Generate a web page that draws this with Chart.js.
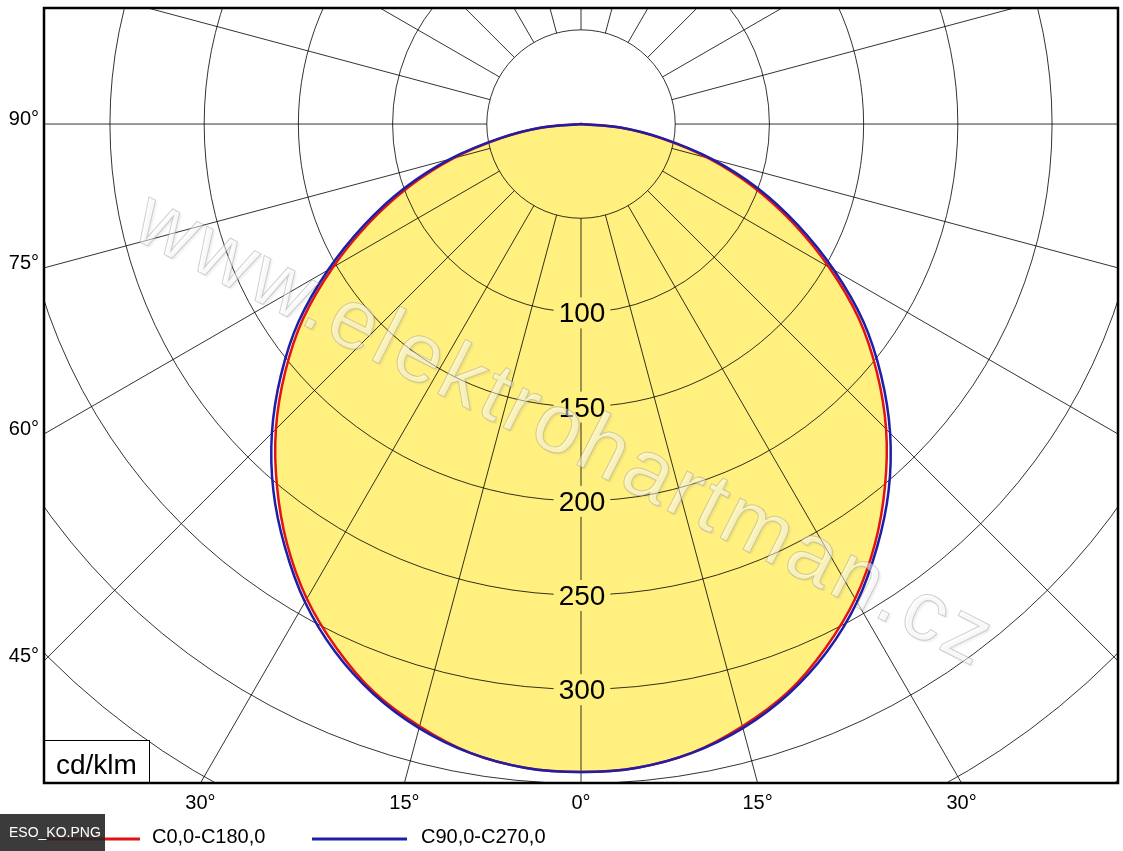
<!DOCTYPE html>
<html>
<head>
<meta charset="utf-8">
<title>Luminous intensity distribution</title>
<script src="https://cdn.jsdelivr.net/npm/chart.js@4.4.0/dist/chart.umd.min.js"></script>
<style>
  html, body { margin: 0; padding: 0; background: #fff; }
  #wrap { position: relative; width: 1123px; height: 851px; }
  #tag {
    position: absolute; left: 0; top: 814px; width: 105px; height: 37px;
    background: rgba(38, 38, 38, 0.9); color: #fff;
    font: 14px 'Liberation Sans', Arial, sans-serif; line-height: 37px;
    padding-left: 9px; box-sizing: border-box; white-space: nowrap;
  }
</style>
</head>
<body>
<div id="wrap">
  <canvas id="ldc"></canvas>
  <div id="tag">ESO_KO.PNG</div>
</div>
<script>
// gamma angles (deg from nadir), intensities in cd/klm
const angles = [0, 5, 10, 15, 20, 25, 30, 35, 40, 45, 50, 55, 60, 65, 70, 75, 80, 85, 90]
const c0c180 = [344, 343, 339, 331, 321, 307, 291, 272, 251, 229, 205, 180, 152, 124, 97, 70, 43, 20, 0]
const c90c270 = [344, 343, 339, 332, 322, 309, 293, 274, 254, 232, 208, 183, 155, 127, 100, 72, 44, 21, 0]
const seriesNames = ['C0,0-C180,0', 'C90,0-C270,0']

const rings = [50, 100, 150, 200, 250, 300, 350, 400, 450, 500]
const ringLabels = [100, 150, 200, 250, 300]
const spokes = [0, 15, 30, 45, 60, 75, 90, 105, 120, 135, 150, 165, 180, 195, 210, 225, 240, 255, 270, 285, 300, 315, 330, 345]
const bottomTicks = [-30, -15, 0, 15, 30]
const sideTicks = [45, 60, 75, 90]
const unitLabel = 'cd/klm'
const watermark = 'www.elektrohartman.cz'

const RED = '#e01414'
const BLUE = '#1e1ea6'
const YELLOW = '#fff07f'
const GRID = 'rgba(0, 0, 0, 0.8)'
const FONT = "'Liberation Sans', Arial, sans-serif"

function toXY(gamma, value) {
  const rad = gamma * Math.PI / 180
  return { x: value * Math.sin(rad), y: -value * Math.cos(rad) }
}

// one C-plane pair: left half mirrored, then right half
function curve(values) {
  const pts = []
  for (let i = angles.length - 1; i > 0; i--) pts.push(toXY(-angles[i], values[i]))
  for (let i = 0; i < angles.length; i++) pts.push(toXY(angles[i], values[i]))
  return pts
}

const polarGrid = {
  id: 'polarGrid',
  beforeDatasetsDraw(chart) {
    const { ctx, chartArea: a, scales: { x, y } } = chart
    const cx = x.getPixelForValue(0)
    const cy = y.getPixelForValue(0)
    const k = x.getPixelForValue(1) - cx
    ctx.save()
    ctx.beginPath()
    ctx.rect(a.left, a.top, a.width, a.height)
    ctx.clip()
    ctx.strokeStyle = GRID
    ctx.lineWidth = 1
    rings.forEach((r) => {
      ctx.beginPath()
      ctx.arc(cx, cy, r * k, 0, Math.PI * 2)
      ctx.stroke()
    })
    spokes.forEach((g) => {
      const p0 = toXY(g, rings[0])
      const p1 = toXY(g, 900)
      ctx.beginPath()
      ctx.moveTo(x.getPixelForValue(p0.x), y.getPixelForValue(p0.y))
      ctx.lineTo(x.getPixelForValue(p1.x), y.getPixelForValue(p1.y))
      ctx.stroke()
    })
    ctx.font = '28px ' + FONT
    ctx.textAlign = 'center'
    ctx.textBaseline = 'alphabetic'
    ringLabels.forEach((v) => {
      const py = y.getPixelForValue(-v)
      const w = ctx.measureText(String(v)).width + 10
      ctx.fillStyle = YELLOW
      ctx.fillRect(cx - w / 2 + 1, py - 15, w, 31)
      ctx.fillStyle = '#000'
      ctx.fillText(String(v), cx + 1, py + 10)
    })
    ctx.restore()
  }
}

const decorations = {
  id: 'decorations',
  afterDraw(chart) {
    const { ctx, chartArea: a, scales: { x, y } } = chart
    ctx.save()

    // unit box
    ctx.fillStyle = '#fff'
    ctx.fillRect(a.left, a.bottom - 43, 105, 43)
    ctx.strokeStyle = '#000'
    ctx.lineWidth = 1
    ctx.strokeRect(a.left + 0.5, a.bottom - 42.5, 105, 43)
    ctx.fillStyle = '#000'
    ctx.font = '28px ' + FONT
    ctx.textAlign = 'left'
    ctx.fillText(unitLabel, a.left + 12, a.bottom - 9)

    // frame
    ctx.lineWidth = 2.5
    ctx.strokeRect(a.left, a.top, a.width, a.height)

    // angle labels where spokes meet the frame
    ctx.font = '20px ' + FONT
    ctx.textAlign = 'center'
    const yMin = y.min
    bottomTicks.forEach((g) => {
      const rad = g * Math.PI / 180
      const xv = -yMin * Math.tan(rad)
      ctx.fillText(Math.abs(g) + '°', x.getPixelForValue(xv), a.bottom + 26)
    })
    ctx.textAlign = 'right'
    const xMin = x.min
    sideTicks.forEach((g) => {
      const rad = g * Math.PI / 180
      const yv = xMin * Math.cos(rad) / Math.sin(rad)
      ctx.fillText(g + '°', a.left - 5, y.getPixelForValue(yv) + 1)
    })

    // legend
    const ly = a.bottom + 56
    const items = [
      { color: RED, x0: a.left - 1, x1: a.left + 96, tx: a.left + 108 },
      { color: BLUE, x0: a.left + 268, x1: a.left + 363, tx: a.left + 377 },
    ]
    ctx.textAlign = 'left'
    items.forEach((it, i) => {
      ctx.strokeStyle = it.color
      ctx.lineWidth = 3
      ctx.beginPath()
      ctx.moveTo(it.x0, ly)
      ctx.lineTo(it.x1, ly)
      ctx.stroke()
      ctx.fillStyle = '#000'
      ctx.fillText(seriesNames[i], it.tx, ly + 4)
    })

    // watermark
    ctx.translate(a.left + a.width * 0.484, a.top + a.height * 0.547)
    ctx.rotate(27 * Math.PI / 180)
    ctx.font = '84px ' + FONT
    ctx.letterSpacing = '4px'
    ctx.textAlign = 'center'
    ctx.textBaseline = 'middle'
    ctx.shadowColor = 'rgba(0, 0, 0, 0.12)'
    ctx.shadowBlur = 2
    ctx.shadowOffsetX = 2
    ctx.shadowOffsetY = 2
    ctx.fillStyle = 'rgba(255, 255, 255, 0.5)'
    ctx.fillText(watermark, 0, 0)
    ctx.shadowColor = 'transparent'
    ctx.strokeStyle = 'rgba(150, 150, 150, 0.45)'
    ctx.lineWidth = 1
    ctx.strokeText(watermark, 0, 0)
    ctx.restore()
  }
}

const chart = new Chart(document.getElementById('ldc'), {
  type: 'line',
  data: {
    datasets: [
      {
        label: seriesNames[0],
        data: curve(c0c180),
        borderColor: RED,
        backgroundColor: YELLOW,
        fill: 'shape',
        borderWidth: 2.5,
        pointRadius: 0,
        tension: 0.3,
        order: 2,
      },
      {
        label: seriesNames[1],
        data: curve(c90c270),
        borderColor: BLUE,
        backgroundColor: BLUE,
        fill: false,
        borderWidth: 2.5,
        pointRadius: 0,
        tension: 0.3,
        order: 1,
      },
    ]
  },
  options: {
    responsive: true,
    maintainAspectRatio: false,
    animation: false,
    events: [],
    layout: { padding: { left: 44, top: 8, right: 5, bottom: 68 } },
    scales: {
      x: { type: 'linear', min: -285, max: 285, display: false },
      y: { type: 'linear', min: -349.8, max: 61.6, display: false },
    },
    plugins: {
      legend: { display: false },
      tooltip: { enabled: false },
      filler: { drawTime: 'beforeDatasetsDraw' },
    },
  },
  plugins: [polarGrid, decorations],
})
</script>
</body>
</html>
